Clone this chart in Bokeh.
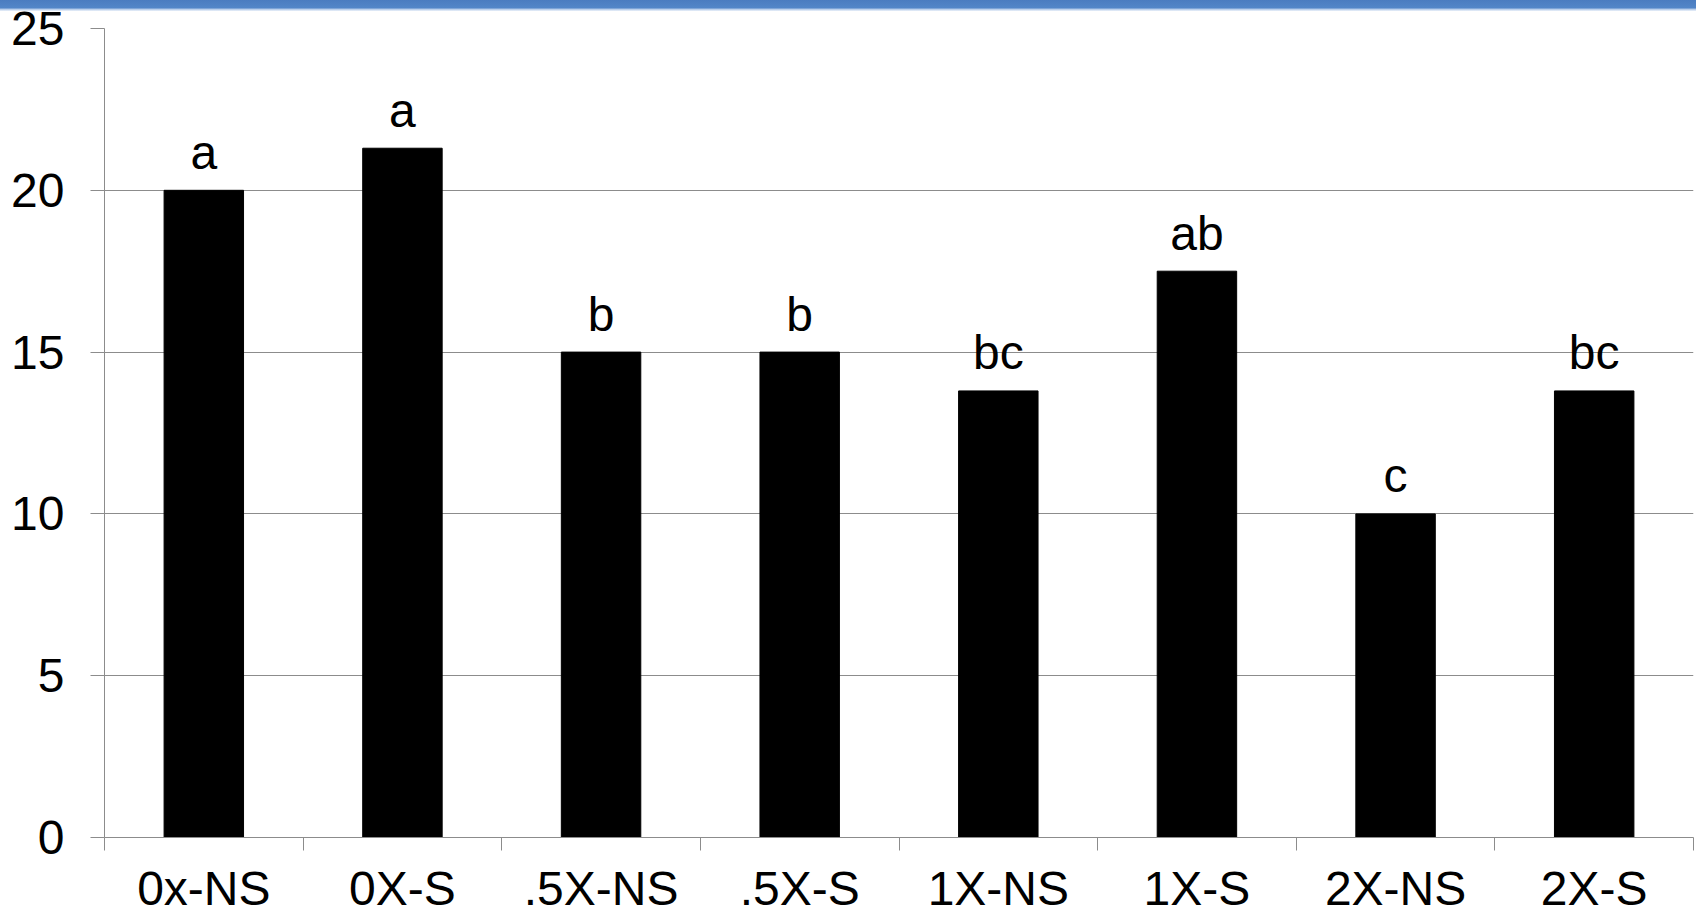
from bokeh.plotting import figure
from bokeh.models import Range1d, FixedTicker, ColumnDataSource, InlineStyleSheet
from bokeh.core.properties import value
from bokeh.embed import file_html
from bokeh.resources import INLINE
import numpy as np

categories = ["0x-NS", "0X-S", ".5X-NS", ".5X-S", "1X-NS", "1X-S", "2X-NS", "2X-S"]
values = [20, 21.3, 15, 15, 13.8, 17.5, 10, 13.8]
letters = ["a", "a", "b", "b", "bc", "ab", "c", "bc"]
y_ticks = [0, 5, 10, 15, 20, 25]

FONT = "Liberation Sans"
GRAY = "#8c8c8c"
W, H = 1696, 917

n = len(categories)
xs = np.arange(n) + 0.5

band_css = InlineStyleSheet(css="""
:host { position: relative; }
:host::after {
  content: "";
  position: absolute;
  left: 0; top: 0; width: 100%; height: 11px;
  background: linear-gradient(to bottom, #4a7cc0 0px, #5286c8 8px, #a9c3e6 9px, #eef3fb 11px);
  z-index: 100;
  pointer-events: none;
}
""")

p = figure(width=W, height=H, output_backend="svg", toolbar_location=None,
           x_range=Range1d(0, n), y_range=Range1d(0, 25),
           min_border_left=104, min_border_right=3, min_border_top=28, min_border_bottom=79,
           stylesheets=[band_css])
p.outline_line_color = None
p.background_fill_color = "white"
p.border_fill_color = "white"

src = ColumnDataSource(dict(x=xs, top=values, lab=letters))
p.vbar(x="x", top="top", width=0.4, bottom=0, source=src, fill_color="black", line_color="black")
p.text(x="x", y="top", text="lab", source=src, y_offset=-38, text_align="center",
       text_baseline="alphabetic", text_font=value(FONT), text_font_size="48px", text_color="black")

# x axis
xa = p.xaxis[0]
xa.ticker = FixedTicker(ticks=list(xs), minor_ticks=list(range(n + 1)))
xa.major_label_overrides = {float(x): c for x, c in zip(xs, categories)}
xa.major_tick_in = 0
xa.major_tick_out = 0
xa.minor_tick_in = 0
xa.minor_tick_out = 13
xa.minor_tick_line_color = GRAY
xa.axis_line_color = GRAY
xa.major_label_standoff = 11
xa.major_label_text_font = FONT
xa.major_label_text_font_size = "48px"
xa.major_label_text_color = "black"

# y axis
ya = p.yaxis[0]
ya.ticker = FixedTicker(ticks=y_ticks)
ya.major_tick_in = 0
ya.major_tick_out = 14
ya.major_tick_line_color = GRAY
ya.minor_tick_line_color = None
ya.axis_line_color = GRAY
ya.major_label_standoff = 26
ya.major_label_text_font = FONT
ya.major_label_text_font_size = "48px"
ya.major_label_text_color = "black"

p.xgrid.grid_line_color = None
p.ygrid.ticker = FixedTicker(ticks=y_ticks)
p.ygrid.grid_line_color = GRAY
p.ygrid.grid_line_width = 1

open("out.html", "w").write(file_html(p, INLINE))
